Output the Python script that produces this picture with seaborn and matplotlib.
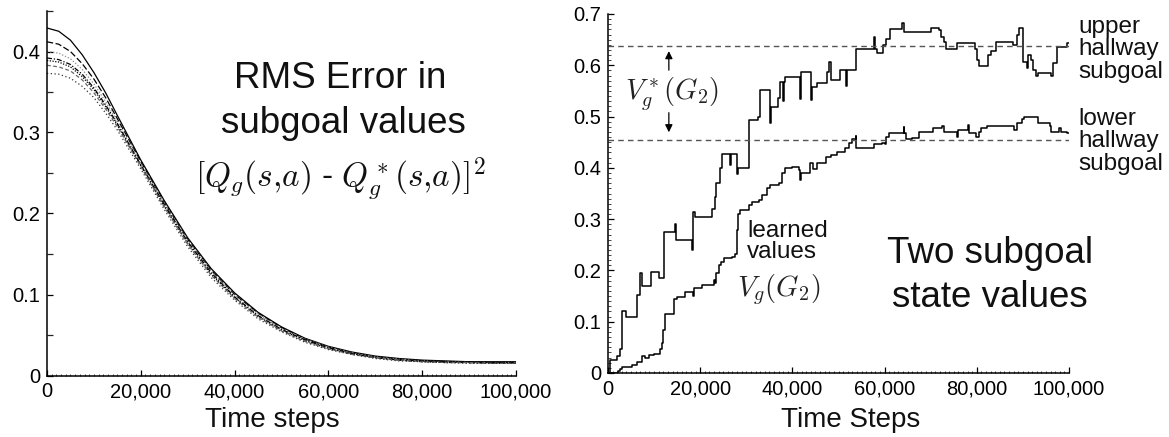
import matplotlib
matplotlib.use("Agg")
import matplotlib.pyplot as plt
from matplotlib.ticker import FuncFormatter, MultipleLocator
import pandas as pd
import seaborn as sns

# ---- left panel: RMS error of subgoal values, several runs ----
rms_steps = [0, 2500, 5000, 7500, 10000, 12500, 15000, 20000, 25000, 30000, 35000, 40000,
             45000, 50000, 55000, 60000, 65000, 70000, 75000, 80000, 85000, 90000, 95000, 100000]
rms_a = [0.429, 0.425, 0.414, 0.396, 0.374, 0.349, 0.321, 0.266, 0.216, 0.170, 0.132, 0.102,
         0.078, 0.060, 0.046, 0.036, 0.029, 0.024, 0.021, 0.019, 0.018, 0.017, 0.017, 0.017]
rms_b = [0.412, 0.409, 0.400, 0.385, 0.366, 0.343, 0.317, 0.264, 0.214, 0.168, 0.130, 0.100,
         0.077, 0.059, 0.045, 0.035, 0.028, 0.023, 0.020, 0.018, 0.017, 0.017, 0.016, 0.016]
rms_c = [0.400, 0.398, 0.391, 0.378, 0.360, 0.338, 0.314, 0.262, 0.213, 0.167, 0.129, 0.099,
         0.076, 0.058, 0.045, 0.035, 0.028, 0.023, 0.020, 0.018, 0.017, 0.016, 0.016, 0.016]
rms_d = [0.392, 0.390, 0.384, 0.372, 0.355, 0.334, 0.311, 0.260, 0.211, 0.165, 0.127, 0.097,
         0.074, 0.057, 0.044, 0.034, 0.027, 0.022, 0.019, 0.018, 0.017, 0.016, 0.016, 0.016]
rms_e = [0.389, 0.387, 0.381, 0.369, 0.353, 0.332, 0.309, 0.259, 0.209, 0.163, 0.125, 0.096,
         0.073, 0.056, 0.043, 0.033, 0.027, 0.022, 0.019, 0.017, 0.016, 0.016, 0.015, 0.015]
rms_f = [0.383, 0.381, 0.376, 0.365, 0.349, 0.329, 0.307, 0.258, 0.208, 0.162, 0.124, 0.095,
         0.072, 0.055, 0.042, 0.033, 0.026, 0.022, 0.019, 0.017, 0.016, 0.016, 0.015, 0.015]
rms_g = [0.373, 0.372, 0.367, 0.357, 0.343, 0.324, 0.303, 0.255, 0.205, 0.159, 0.121, 0.093,
         0.070, 0.054, 0.041, 0.032, 0.026, 0.021, 0.018, 0.017, 0.016, 0.015, 0.015, 0.015]

# ---- right panel: learned values of two subgoal states (step curves, x in thousands) ----
upper_x = [0, 0.5, 1.9, 2.6, 3.0, 4.0, 6.2, 7.0, 7.3, 9.3, 11.0, 12.2, 14.6, 14.8, 18.3, 18.5,
           18.9, 22.5, 23.3, 23.5, 24.2, 24.7, 26.5, 26.7, 27.9, 28.2, 30.5, 32.5, 33.0, 35.1,
           35.3, 36.8, 37.4, 37.9, 38.1, 38.5, 41.6, 41.8, 44.1, 44.3, 45.4, 47.4, 47.9, 48.4,
           50.4, 51.7, 51.9, 53.8, 57.7, 57.9, 58.3, 59.7, 60.4, 61.2, 63.8, 64.3, 70.0, 71.8,
           72.2, 72.9, 73.3, 75.7, 79.6, 80.1, 80.4, 82.5, 83.0, 84.1, 87.8, 88.8, 89.2, 90.0,
           90.8, 91.0, 91.7, 92.2, 92.8, 93.2, 96.1, 96.5, 97.5, 99.5, 100.0]
upper_y = [0.000, 0.025, 0.033, 0.047, 0.120, 0.110, 0.152, 0.195, 0.170, 0.196, 0.185, 0.275,
           0.290, 0.260, 0.240, 0.314, 0.305, 0.320, 0.344, 0.370, 0.400, 0.427, 0.405, 0.427,
           0.388, 0.400, 0.493, 0.500, 0.552, 0.487, 0.519, 0.537, 0.568, 0.530, 0.568, 0.578,
           0.535, 0.586, 0.532, 0.558, 0.565, 0.586, 0.607, 0.572, 0.590, 0.560, 0.590, 0.631,
           0.656, 0.631, 0.623, 0.640, 0.652, 0.671, 0.683, 0.665, 0.672, 0.668, 0.656, 0.645,
           0.631, 0.643, 0.632, 0.610, 0.598, 0.620, 0.628, 0.646, 0.640, 0.660, 0.672, 0.607,
           0.594, 0.620, 0.610, 0.590, 0.579, 0.584, 0.580, 0.604, 0.636, 0.643, 0.643]
lower_x = [0, 2.2, 2.6, 3.0, 5.1, 6.2, 7.3, 8.0, 8.8, 9.9, 11.3, 11.7, 12.0, 12.4, 14.4, 15.0,
           16.7, 18.5, 18.7, 20.4, 22.9, 23.3, 23.5, 24.0, 24.5, 25.1, 27.0, 27.6, 28.0, 28.3,
           28.7, 30.5, 31.2, 32.7, 33.4, 34.5, 35.2, 37.0, 37.7, 38.5, 39.9, 41.4, 41.7, 41.9,
           43.9, 44.5, 45.4, 47.2, 48.3, 49.7, 51.5, 52.2, 53.0, 53.7, 53.9, 57.7, 59.5, 60.0,
           60.4, 60.9, 64.1, 64.3, 64.6, 66.0, 67.5, 70.4, 72.5, 72.9, 75.6, 75.9, 78.1, 78.3,
           79.8, 80.5, 80.9, 82.3, 88.1, 88.8, 89.9, 90.3, 93.2, 95.8, 96.1, 97.9, 98.3, 99.5,
           100.0]
lower_y = [0.000, 0.004, 0.007, 0.011, 0.016, 0.022, 0.033, 0.029, 0.035, 0.038, 0.046, 0.058,
           0.084, 0.116, 0.144, 0.148, 0.158, 0.150, 0.166, 0.172, 0.181, 0.175, 0.195, 0.210,
           0.217, 0.224, 0.226, 0.233, 0.279, 0.311, 0.318, 0.327, 0.334, 0.337, 0.347, 0.360,
           0.366, 0.370, 0.389, 0.399, 0.402, 0.395, 0.377, 0.389, 0.409, 0.398, 0.409, 0.422,
           0.425, 0.431, 0.438, 0.448, 0.457, 0.462, 0.438, 0.446, 0.448, 0.446, 0.461, 0.467,
           0.480, 0.467, 0.457, 0.459, 0.470, 0.477, 0.481, 0.470, 0.461, 0.473, 0.483, 0.468,
           0.460, 0.470, 0.477, 0.481, 0.473, 0.487, 0.496, 0.500, 0.487, 0.481, 0.470, 0.477,
           0.470, 0.468, 0.468]
upper_opt = 0.638
lower_opt = 0.455

sns.set_theme(style="ticks")
plt.rcParams["font.family"] = ["Liberation Sans", "DejaVu Sans"]
plt.rcParams["mathtext.fontset"] = "cm"

W, H = 1169, 437
fig = plt.figure(figsize=(W / 100, H / 100), dpi=100)
ax1 = fig.add_axes([47 / W, 61.5 / H, 469 / W, 364.5 / H])
ax2 = fig.add_axes([608 / W, 64 / H, 461 / W, 359 / H])


def ftext(px, py, s, **kw):
    fig.text(px / W, 1 - py / H, s, **kw)


# left: one line per run
runs = [(rms_a, "black", "-"), (rms_b, "black", (0, (5, 2))), (rms_c, "0.55", (0, (1, 1.5))),
        (rms_d, "black", (0, (4, 1.5, 1, 1.5))), (rms_e, "black", (0, (1, 1.2))),
        (rms_f, "0.4", (0, (3, 2))), (rms_g, "0.2", (0, (1, 2)))]
for vals, col, ls in runs:
    sns.lineplot(x=rms_steps, y=vals, ax=ax1, color=col, linestyle=ls, lw=0.9)

# right: step curves plus optimal-value dashed lines
sns.lineplot(x=[v * 1000 for v in upper_x], y=upper_y, ax=ax2, color="black", lw=1.1,
             drawstyle="steps-post", estimator=None, sort=False)
sns.lineplot(x=[v * 1000 for v in lower_x], y=lower_y, ax=ax2, color="black", lw=1.1,
             drawstyle="steps-post", estimator=None, sort=False)
for yv in (upper_opt, lower_opt):
    ax2.axhline(yv, color="#555555", lw=1.0, ls=(0, (4, 3)))

ax2.annotate("", xy=(13200, 0.633), xytext=(13200, 0.585),
             arrowprops=dict(arrowstyle="-|>", color="black", lw=0.9, mutation_scale=11))
ax2.annotate("", xy=(13200, 0.464), xytext=(13200, 0.513),
             arrowprops=dict(arrowstyle="-|>", color="black", lw=0.9, mutation_scale=11))

xfmt = FuncFormatter(lambda v, p: f"{int(round(v)):,}")
yfmt = FuncFormatter(lambda v, p: "0" if abs(v) < 1e-9 else f"{v:.1f}")
for ax, ytop in ((ax1, 0.45), (ax2, 0.7)):
    ax.set_xlim(0, 100000)
    ax.set_ylim(0, ytop)
    ax.xaxis.set_major_locator(MultipleLocator(20000))
    ax.xaxis.set_major_formatter(xfmt)
    ax.yaxis.set_major_locator(MultipleLocator(0.1))
    ax.yaxis.set_major_formatter(yfmt)
    ax.tick_params(which="major", direction="in", length=4, width=0.9, labelsize=14.5,
                   pad=5, colors="black")
    ax.set_xlabel("")
    ax.set_ylabel("")
    for sp in ("left", "bottom"):
        ax.spines[sp].set_color("black")
        ax.spines[sp].set_linewidth(1.1)
    sns.despine(ax=ax)

ax1.yaxis.set_minor_locator(MultipleLocator(0.05))
ax1.tick_params(axis="y", which="minor", direction="in", length=4, width=0.9)
ax2.yaxis.set_minor_locator(MultipleLocator(0.01))
ax2.tick_params(axis="y", which="minor", direction="in", length=2, width=0.6)
for ax in (ax1, ax2):
    ax.xaxis.set_minor_locator(MultipleLocator(1000))
    ax.tick_params(axis="x", which="minor", direction="in", length=1.5, width=0.6)

# text annotations
big = dict(fontsize=26.5, color="#111111", ha="center", va="baseline")
ftext(340, 88, "RMS Error in", **big)
ftext(343, 133, "subgoal values", **big)
ftext(340, 186, r"$[Q_g(s{,}a)$ - $Q^*_g(s{,}a)]^2$", fontsize=24, color="#111111",
      ha="center", va="baseline")
ftext(990, 263, "Two subgoal", **big)
ftext(990, 307, "state values", **big)

ftext(747, 237, "learned", fontsize=17.5, color="#111111", va="baseline")
ftext(747, 258, "values", fontsize=17.5, color="#111111", va="baseline")
ftext(737, 296, r"$V_g(G_2)$", fontsize=20.5, color="#222222", va="baseline")
ftext(672, 100, r"$V^*_g(G_2)$", fontsize=20.5, color="#222222", ha="center", va="baseline")

hall = dict(fontsize=17.5, color="#111111", va="baseline")
for i, word in enumerate(["upper", "hallway", "subgoal"]):
    ftext(1078, 33 + 22.5 * i, word, **hall)
for i, word in enumerate(["lower", "hallway", "subgoal"]):
    ftext(1078, 125 + 22.5 * i, word, **hall)

ftext(272, 420, "Time steps", fontsize=20, color="#111111", ha="center", va="center")
ftext(851, 420, "Time Steps", fontsize=20, color="#111111", ha="center", va="center")

fig.savefig("out.png", dpi=100)
